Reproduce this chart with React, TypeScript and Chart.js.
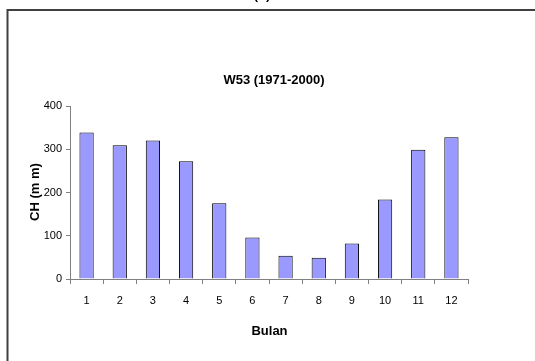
import React, { useEffect, useRef } from "react";
import { Chart, registerables } from "chart.js";

Chart.register(...registerables);

const categories = ["1", "2", "3", "4", "5", "6", "7", "8", "9", "10", "11", "12"];
const rainfall = [339, 309, 320, 272, 175, 96, 54, 49, 82, 184, 299, 328];
const yTicks = [0, 100, 200, 300, 400];
const chartTitle = "W53 (1971-2000)";
const yTitle = "CH (m m)";
const xTitle = "Bulan";
const panelLabel = "(b)";

const FONT = "'Liberation Sans', Arial, sans-serif";

const decor = {
  id: "decor",
  afterDraw(chart: any) {
    const ctx = chart.ctx;
    ctx.save();
    // frame (top and left edges)
    ctx.strokeStyle = "#404040";
    ctx.lineWidth = 2;
    ctx.beginPath();
    ctx.moveTo(7.5, 361);
    ctx.lineTo(7.5, 10);
    ctx.lineTo(535, 10);
    ctx.stroke();
    ctx.fillStyle = "#000";
    ctx.textAlign = "center";
    ctx.textBaseline = "middle";
    ctx.font = `bold 13px ${FONT}`;
    ctx.fillText(chartTitle, 274, 80);
    ctx.fillText(xTitle, 269.5, 331);
    ctx.textBaseline = "alphabetic";
    ctx.fillText(panelLabel, 262, -1);
    ctx.translate(35, 192);
    ctx.rotate(-Math.PI / 2);
    ctx.textBaseline = "middle";
    ctx.fillText(yTitle, 0, 0);
    ctx.restore();
  },
};

export default function App() {
  const ref = useRef<HTMLCanvasElement>(null);
  useEffect(() => {
    const chart = new Chart(ref.current!, {
      type: "bar",
      data: {
        labels: categories,
        datasets: [
          {
            data: rainfall,
            backgroundColor: "#9999FF",
            borderColor: "#000000",
            borderWidth: 1,
            barPercentage: 0.43,
            categoryPercentage: 1,
          },
        ],
      },
      options: {
        responsive: false,
        animation: false,
        layout: { padding: { top: 106, right: 67, bottom: 0, left: 0 } },
        plugins: { legend: { display: false }, tooltip: { enabled: false }, title: { display: false } },
        scales: {
          x: {
            afterFit: (s: any) => {
              s.height = 82;
            },
            grid: {
              display: true,
              drawOnChartArea: false,
              drawTicks: true,
              tickLength: 5,
              color: "#808080",
              offset: true,
            },
            border: { display: true, color: "#808080", width: 1 },
            ticks: { color: "#000", font: { family: FONT, size: 11 }, padding: 10, maxRotation: 0 },
          },
          y: {
            min: 0,
            max: 400,
            afterFit: (s: any) => {
              s.width = 70;
            },
            afterBuildTicks: (s: any) => {
              s.ticks = yTicks.map((v) => ({ value: v }));
            },
            grid: {
              display: true,
              drawOnChartArea: false,
              drawTicks: true,
              tickLength: 4,
              color: "#808080",
            },
            border: { display: true, color: "#808080", width: 1 },
            ticks: { color: "#000", font: { family: FONT, size: 11 }, padding: 4 },
          },
        },
      },
      plugins: [decor],
    });
    return () => chart.destroy();
  }, []);
  return (
    <canvas
      ref={ref}
      width={535}
      height={361}
      style={{ position: "absolute", left: 0, top: 0, width: 535, height: 361, background: "#fff" }}
    />
  );
}
